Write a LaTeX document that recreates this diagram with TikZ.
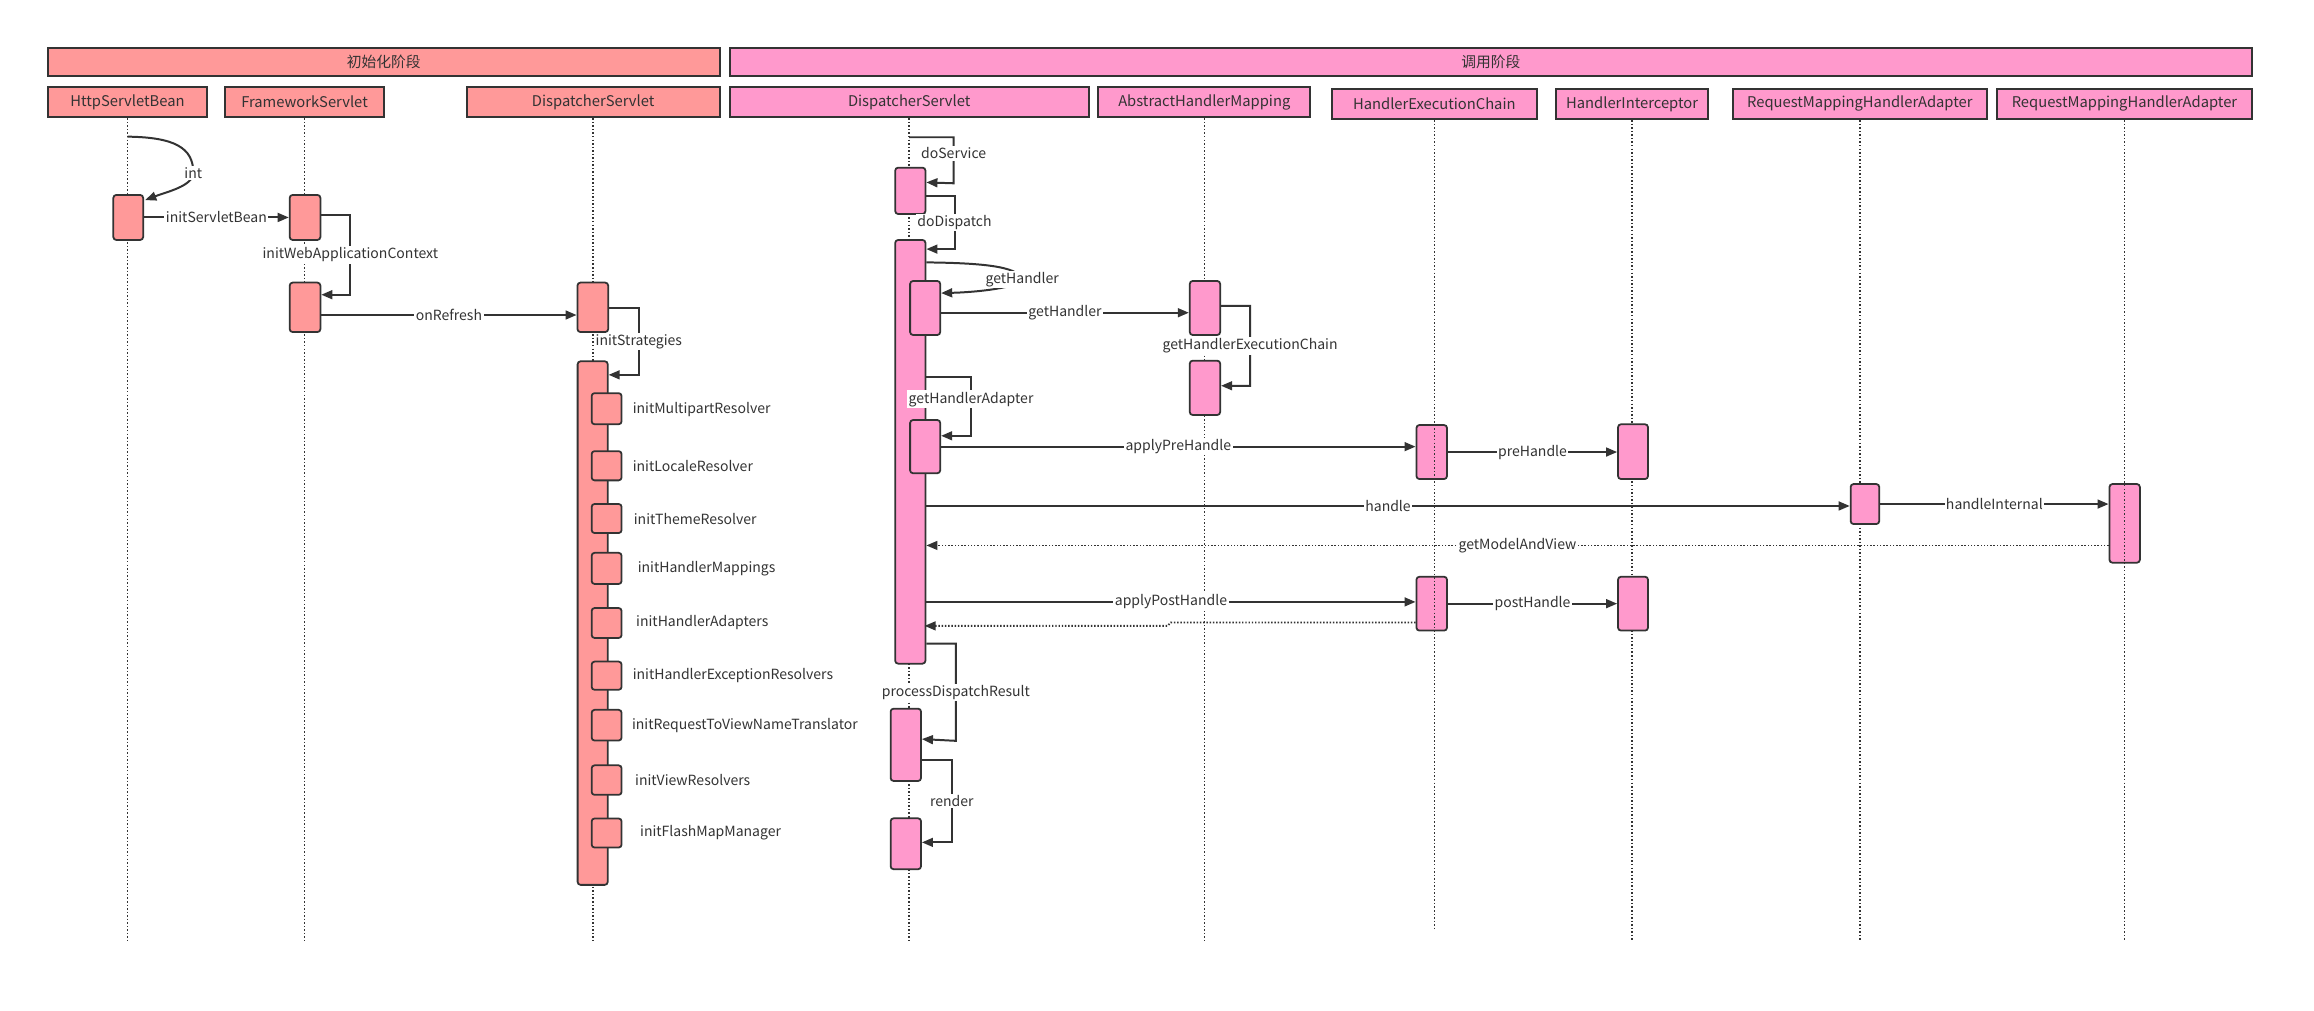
\documentclass[tikz,border=0pt]{standalone}
\usepackage{fontspec}
\setmainfont{Noto Sans CJK SC}
\usetikzlibrary{arrows.meta,calc}
\definecolor{lc}{HTML}{333333}
\definecolor{fa}{HTML}{FF9999}
\definecolor{fb}{HTML}{FF99CC}
\newcommand{\mkbox}[7]{%
  \pgfmathsetmacro\mkX{(#3+#4)/2}\pgfmathsetmacro\mkY{(#5+#6)/2}%
  \pgfmathsetmacro\mkW{#4-#3}\pgfmathsetmacro\mkH{#6-#5}%
  \node[#1, minimum width=\mkW pt, minimum height=\mkH pt] (#2) at (\mkX,\mkY) {#7};}
\begin{document}
\begin{tikzpicture}[x=1pt,y=-1pt,
  font=\fontsize{9.5}{11}\selectfont, text=lc,
  lane/.style={draw=lc, line width=1.3pt, inner sep=0pt, font=\fontsize{10}{12}\selectfont},
  laneA/.style={lane, fill=fa}, laneB/.style={lane, fill=fb},
  act/.style={draw=lc, line width=1.2pt, rounded corners=2pt, inner sep=0pt},
  actA/.style={act, fill=fa}, actB/.style={act, fill=fb},
  life/.style={draw=lc, line width=1pt, dash pattern=on 1pt off 1.4pt},
  msg/.style={draw=lc, line width=1.35pt, -{Triangle[length=7.5pt,width=6pt]}},
  ret/.style={msg, line width=1.2pt, dash pattern=on 1pt off 1.2pt},
  lbl/.style={fill=white, inner sep=1pt, text=lc},
  plain/.style={inner sep=1pt, text=lc}]
\useasboundingbox (0,0) rectangle (1568,685);
\coordinate (bot) at (0,637);
\coordinate (botH) at (0,631);
% headers
\mkbox{laneA}{hInit}{32.4}{487.7}{32.3}{51.3}{初始化阶段}
\mkbox{laneB}{hCall}{494.4}{1526}{32.3}{51.3}{调用阶段}
% lanes
\mkbox{laneA}{lHSB}{32.4}{140.4}{58.7}{79.5}{HttpServletBean}
\mkbox{laneA}{lFS}{152.5}{260.2}{58.7}{79.5}{FrameworkServlet}
\mkbox{laneA}{lDSi}{316.2}{487.7}{58.7}{79.5}{DispatcherServlet}
\mkbox{laneB}{lDSc}{494.4}{737.8}{58.7}{79.5}{DispatcherServlet}
\mkbox{laneB}{lAHM}{744.3}{887.8}{58.7}{79.5}{AbstractHandlerMapping}
\mkbox{laneB}{lHEC}{902.3}{1041.5}{60.1}{80.8}{HandlerExecutionChain}
\mkbox{laneB}{lHI}{1054.4}{1157.5}{60.1}{80.8}{HandlerInterceptor}
\mkbox{laneB}{lRA1}{1174.1}{1346.4}{60.1}{80.8}{RequestMappingHandlerAdapter}
\mkbox{laneB}{lRA2}{1353.1}{1526}{60.1}{80.8}{RequestMappingHandlerAdapter}
% lifelines
\foreach \n in {lHSB,lFS,lDSi,lDSc,lAHM,lHI,lRA1}{\draw[life] (\n.south) -- (\n.south |- bot);}
% init activations
\mkbox{actA}{a1}{76.8}{97}{132.1}{162.6}{}
\mkbox{actA}{a2}{196.3}{217.1}{132.1}{162.6}{}
\mkbox{actA}{a3}{196.3}{217.1}{191.5}{225}{}
\mkbox{actA}{a4}{391.3}{412.1}{191.5}{225}{}
\mkbox{actA}{a5}{391.4}{411.8}{244.8}{599.6}{}
\mkbox{actA}{s1}{400.9}{421.2}{266.4}{287.5}{}
\mkbox{actA}{s2}{400.9}{421.2}{305.7}{325.5}{}
\mkbox{actA}{s3}{400.9}{421.2}{341.5}{361.2}{}
\mkbox{actA}{s4}{400.9}{421.2}{374.6}{395.7}{}
\mkbox{actA}{s5}{400.9}{421.2}{412}{432.3}{}
\mkbox{actA}{s6}{400.9}{421.2}{448.3}{467.4}{}
\mkbox{actA}{s7}{400.9}{421.2}{481}{501.8}{}
\mkbox{actA}{s8}{400.9}{421.2}{518.6}{538.6}{}
\mkbox{actA}{s9}{400.9}{421.2}{554.6}{574.3}{}
% call activations
\mkbox{actB}{c1}{606.6}{627.1}{113.6}{145}{}
\mkbox{actB}{c2}{606.6}{627.1}{162.6}{449.7}{}
\mkbox{actB}{c3}{616.7}{637.1}{190.4}{227}{}
\mkbox{actB}{c4}{806.2}{826.8}{190.4}{227}{}
\mkbox{actB}{c5}{806.2}{826.8}{244.4}{281.2}{}
\mkbox{actB}{c6}{616.7}{637.1}{284.6}{320.7}{}
\mkbox{actB}{c7}{959.8}{980.5}{288}{324.6}{}
\mkbox{actB}{c8}{1096.4}{1116.7}{287.5}{324.6}{}
\mkbox{actB}{c9}{1254}{1273.4}{328}{355.1}{}
\mkbox{actB}{c10}{1429.4}{1450}{328}{381.3}{}
\mkbox{actB}{c11}{959.8}{980.5}{390.8}{427.3}{}
\mkbox{actB}{c12}{1096.4}{1116.7}{390.8}{427.3}{}
\mkbox{actB}{c13}{603.5}{624.1}{480.2}{529.2}{}
\mkbox{actB}{c14}{603.5}{624.1}{554.5}{589}{}
% lifelines drawn over their boxes
\draw[life] (lHEC.south) -- (lHEC.south |- botH);
\draw[life] (lRA2.south) -- (lRA2.south |- bot);
% init messages
\coordinate (intS) at (86.4,92.6);
\draw[msg] (intS) .. controls (118,93) and (131,100) .. (131,117) node[lbl] (tint) {int}
  .. controls (131,126) and (113,130) .. ($(a1.north east)+(0.8,4.1)$);
\draw[msg] (a1.east) -- node[lbl] (tisb) {initServletBean} (a2.east -| a2.west);
\draw[msg] ($(a2.north east)+(0,14.3)$) -- ++(19.7,0) -- node[lbl] (tiwac) {initWebApplicationContext} ++(0,53.9) -- ($(a3.north east)+(0,8.8)$);
\draw[msg] ($(a3.east)+(0,5.2)$) -- node[lbl] (tor) {onRefresh} ($(a4.west)+(0,5.2)$);
\draw[msg] ($(a4.north east)+(0,18.1)$) -- ++(20.2,0) -- node[lbl] (tis) {initStrategies} ++(0,45) -- ($(a5.north east)+(0,9.8)$);
% small box labels
\node[plain, anchor=west] (t1) at ($(s1.east)+(5.8,0.8)$) {initMultipartResolver};
\node[plain, anchor=west] (t2) at ($(s2.east)+(5.8,0)$) {initLocaleResolver};
\node[plain, anchor=west] (t3) at ($(s3.east)+(6.5,0)$) {initThemeResolver};
\node[plain, anchor=west] (t4) at ($(s4.east)+(9.2,0)$) {initHandlerMappings};
\node[plain, anchor=west] (t5) at ($(s5.east)+(8.1,0)$) {initHandlerAdapters};
\node[plain, anchor=west] (t6) at ($(s6.east)+(5.8,0)$) {initHandlerExceptionResolvers};
\node[plain, anchor=west] (t7) at ($(s7.east)+(5.3,0)$) {initRequestToViewNameTranslator};
\node[plain, anchor=west] (t8) at ($(s8.east)+(7.4,0)$) {initViewResolvers};
\node[plain, anchor=west] (t9) at ($(s9.east)+(10.8,0)$) {initFlashMapManager};
% call messages
\coordinate (dsS) at (616.1,93);
\draw[msg] (dsS) -- ++(30.1,0) -- node[lbl, pos=0.35] (tds) {doService} ++(0,31.2) -- ($(c1.north east)+(0,10.6)$);
\draw[msg] ($(c1.north east)+(0,19.7)$) -- ++(19.1,0) -- node[lbl] (tdd) {doDispatch} ++(0,36.1) -- ($(c2.north east)+(0,6.8)$);
\draw[msg] ($(c2.north east)+(0,15.8)$) .. controls (662,178.2) and (690,180) .. (692.6,189.3) node[lbl] (tgh1) {getHandler}
  .. controls (690,195) and (662,198) .. ($(c3.north east)+(0,8.8)$);
\draw[msg] ($(c3.east)+(0,3.2)$) -- node[lbl] (tgh2) {getHandler} ($(c4.west)+(0,3.2)$);
\draw[msg] ($(c4.north east)+(0,17.4)$) -- ++(19.7,0) -- node[lbl] (tghec) {getHandlerExecutionChain} ++(0,54.2) -- ($(c5.north east)+(0,17.6)$);
\draw[msg] ($(c2.north east)+(0,93.3)$) -- ++(30.3,0) -- node[lbl, pos=0.38] (tgha) {getHandlerAdapter} ++(0,40) -- ($(c6.north east)+(0,11.3)$);
\draw[msg] (c6.east) -- node[lbl] (tapre) {applyPreHandle} (c6.east -| c7.west);
\draw[msg] (c7.east) -- node[lbl] (tpre) {preHandle} (c7.east -| c8.west);
\draw[msg] ($(c9.west -| c2.east)+(0,1.3)$) -- node[lbl] (thd) {handle} ($(c9.west)+(0,1.3)$);
\draw[msg] (c9.east) -- node[lbl] (thi) {handleInternal} (c9.east -| c10.west);
\draw[ret] ($(c10.north west)+(0,42.2)$) coordinate (gmv) -- node[lbl] (tgmv) {getModelAndView} (gmv -| c2.east);
\draw[msg] ($(c11.west -| c2.east)+(0,-1.2)$) -- node[lbl] (tapost) {applyPostHandle} ($(c11.west)+(0,-1.2)$);
\draw[msg] (c11.east) -- node[lbl] (tpost) {postHandle} (c11.east -| c12.west);
\draw[ret] ($(c11.south west)+(0,-6.1)$) -- ++(-166,0) -- ++(-2,2.3) -- ++(-164.7,0);
\draw[msg] ($(c2.south east)+(0,-14.2)$) -- ++(20,0) -- node[lbl] (tpdr) {processDispatchResult} ++(0,65.9) -- ($(c13.north east)+(0,21.2)$);
\draw[msg] ($(c13.north east)+(0,35.2)$) -- ++(20.3,0) -- node[lbl] (trd) {render} ++(0,56) -- ($(c14.north east)+(0,16.9)$);
\end{tikzpicture}
\end{document}
